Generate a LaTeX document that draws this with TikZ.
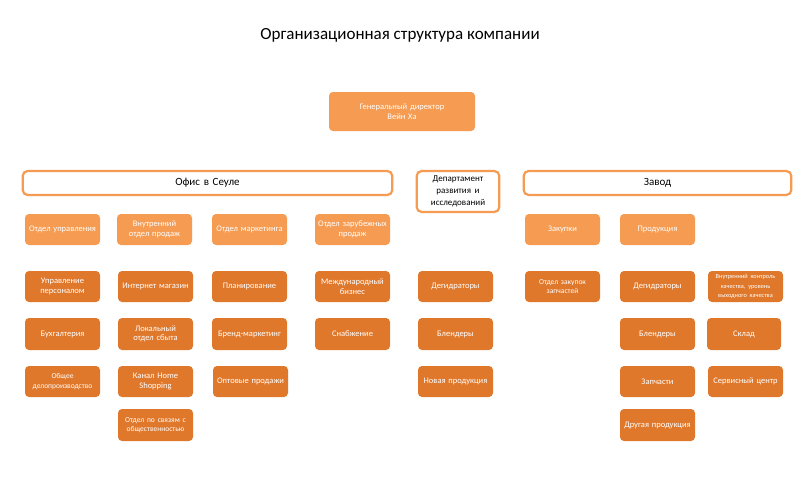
\documentclass[tikz,border=0pt]{standalone}
\usepackage{fontspec}
\setmainfont{Carlito}
\begin{document}
\begin{tikzpicture}[x=1pt,y=-1pt,
 base/.style={rounded corners=4pt,align=center,text=white,font=\fontsize{8.5}{9.5}\selectfont,inner sep=1pt},
 lt/.style={base,fill=lo},
 dk/.style={base,fill=dko},
 hd/.style={rounded corners=5pt,draw=lo,line width=2.2pt,fill=white,align=center,font=\fontsize{11}{12}\selectfont}]
\definecolor{lo}{HTML}{F59B52}
\definecolor{dko}{HTML}{E0782C}
\path[use as bounding box,fill=white] (0,0) rectangle (800,503);
\newcommand{\bx}[7]{\node[#1,minimum width=#4-#2,minimum height=#5-#3,text width=#4-#2-2] (#6) at ({(#2+#4)/2},{(#3+#5)/2}) {#7};}
\node (title) at (400,35) {\fontsize{17}{19}\selectfont Организационная структура компании};
\bx{lt}{329}{92}{475}{131}{dir}{Генеральный директор\\Вейн Ха}
\bx{hd}{25}{171}{390}{195}{off}{Офис в Сеуле}
\bx{hd}{419}{171}{497}{212}{rd}{\fontsize{9}{10}\selectfont Департамент развития и исследований}
\bx{hd}{526}{171}{789}{195}{zav}{Завод}
% row1
\bx{lt}{25}{214}{100}{245}{a1}{Отдел управления}
\bx{lt}{117}{214}{192}{245}{b1}{Внутренний отдел продаж}
\bx{lt}{212}{214}{287}{245}{c1}{Отдел маркетинга}
\bx{lt}{315}{214}{390}{245}{d1}{Отдел зарубежных продаж}
\bx{lt}{525}{214}{600}{245}{f1}{Закупки}
\bx{lt}{620}{214}{695}{245}{g1}{Продукция}
% row2
\bx{dk}{25}{271}{100}{302}{a2}{Управление персоналом}
\bx{dk}{118}{271}{193}{302}{b2}{Интернет магазин}
\bx{dk}{212}{271}{287}{302}{c2}{Планирование}
\bx{dk}{315}{271}{390}{302}{d2}{Международный бизнес}
\bx{dk}{418}{271}{493}{302}{e2}{Дегидраторы}
\bx{dk}{525}{271}{600}{302}{f2}{\fontsize{7.5}{8.5}\selectfont Отдел закупок запчастей}
\bx{dk}{620}{271}{695}{302}{g2}{Дегидраторы}
\bx{dk}{708}{271}{783}{302}{h2}{\fontsize{6.3}{7.6}\selectfont Внутренний контроль качества, уровень выходного качества}
% row3
\bx{dk}{25}{318}{100}{350}{a3}{Бухгалтерия}
\bx{dk}{118}{318}{193}{350}{b3}{Локальный отдел сбыта}
\bx{dk}{212}{318}{287}{350}{c3}{Бренд-маркетинг}
\bx{dk}{315}{318}{390}{350}{d3}{Снабжение}
\bx{dk}{418}{318}{493}{350}{e3}{Блендеры}
\bx{dk}{620}{318}{695}{350}{g3}{Блендеры}
\bx{dk}{707}{318}{781}{350}{h3}{Склад}
% row4
\bx{dk}{25}{366}{100}{397}{a4}{\fontsize{7.5}{8.5}\selectfont Общее делопроизводство}
\bx{dk}{118}{366}{193}{397}{b4}{Канал Home Shopping}
\bx{dk}{213}{366}{288}{397}{c4}{Оптовые продажи}
\bx{dk}{418}{366}{493}{397}{e4}{Новая продукция}
\bx{dk}{620}{366}{695}{397}{g4}{Запчасти}
\bx{dk}{708}{366}{783}{397}{h4}{Сервисный центр}
% row5
\bx{dk}{118}{409}{193}{441}{b5}{\fontsize{7.5}{8.5}\selectfont Отдел по связям с общественностью}
\bx{dk}{620}{409}{695}{441}{g5}{Другая продукция}
\end{tikzpicture}
\end{document}
